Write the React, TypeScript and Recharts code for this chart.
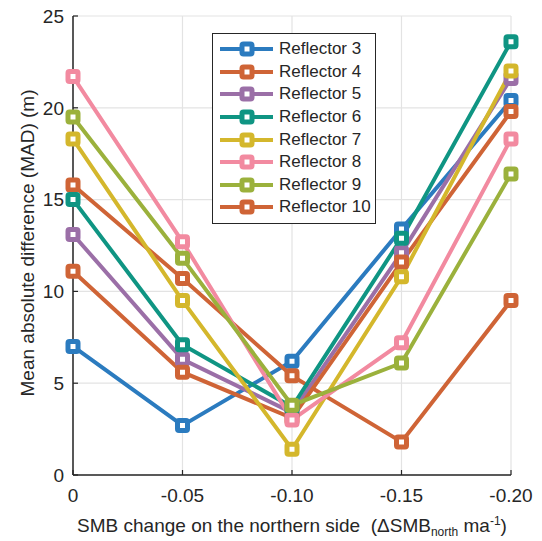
import { LineChart, Line, XAxis, YAxis, CartesianGrid, Legend } from "recharts";

const categories = ["0", "-0.05", "-0.10", "-0.15", "-0.20"];

const reflector3 = [7.0, 2.7, 6.2, 13.4, 20.4];
const reflector4 = [15.8, 10.7, 5.4, 1.8, 9.5];
const reflector5 = [13.1, 6.3, 3.4, 12.1, 21.6];
const reflector6 = [15.0, 7.1, 3.7, 12.9, 23.6];
const reflector7 = [18.3, 9.5, 1.4, 10.8, 22.0];
const reflector8 = [21.7, 12.7, 3.0, 7.2, 18.3];
const reflector9 = [19.5, 11.8, 3.8, 6.1, 16.4];
const reflector10 = [11.1, 5.6, 3.1, 11.6, 19.8];

const yTicks = [0, 5, 10, 15, 20, 25];

const series = [
  { name: "Reflector 3", values: reflector3, color: "#2b7bbf" },
  { name: "Reflector 4", values: reflector4, color: "#cf6436" },
  { name: "Reflector 5", values: reflector5, color: "#9b6fa7" },
  { name: "Reflector 6", values: reflector6, color: "#0f9583" },
  { name: "Reflector 7", values: reflector7, color: "#d4b72c" },
  { name: "Reflector 8", values: reflector8, color: "#f28aa0" },
  { name: "Reflector 9", values: reflector9, color: "#9bb13c" },
  { name: "Reflector 10", values: reflector10, color: "#cf6436" },
];

// draw order: reflector 10 sits under 6–9 in the original figure
const drawOrder = [0, 1, 2, 7, 3, 4, 5, 6];

const data = categories.map((c, i) => {
  const row: Record<string, string | number> = { x: c };
  series.forEach((s) => {
    row[s.name] = s.values[i];
  });
  return row;
});

const FONT = "'Liberation Sans', Arial, sans-serif";
const AXIS = "#262626";

function squareDot(color: string) {
  return (props: any) => {
    const { cx, cy, index } = props;
    if (cx == null || cy == null) return <g key={index} />;
    return (
      <rect
        key={index}
        x={cx - 5}
        y={cy - 5}
        width={10}
        height={10}
        rx={1.5}
        fill="#ffffff"
        stroke={color}
        strokeWidth={5}
      />
    );
  };
}

function LegendBox() {
  return (
    <div
      style={{
        width: 162,
        border: `1.5px solid ${AXIS}`,
        background: "#fff",
        padding: "4px 0",
        fontFamily: FONT,
        fontSize: 17,
        color: AXIS,
        boxSizing: "content-box",
      }}
    >
      {series.map((s) => (
        <div key={s.name} style={{ display: "flex", alignItems: "center", height: 22.6 }}>
          <svg width={66} height={20} style={{ flexShrink: 0 }}>
            <line x1={7} x2={60} y1={10} y2={10} stroke={s.color} strokeWidth={4} />
            <rect x={29} y={5} width={10} height={10} rx={1.5} fill="#fff" stroke={s.color} strokeWidth={5} />
          </svg>
          <span>{s.name}</span>
        </div>
      ))}
    </div>
  );
}

function XLabel() {
  return (
    <text
      x={292}
      y={532}
      textAnchor="middle"
      fontFamily={FONT}
      fontSize={19}
      fill={AXIS}
      style={{ whiteSpace: "pre" }}
    >
      {"SMB change on the northern side  (ΔSMB"}
      <tspan dy={4} fontSize={12}>north</tspan>
      <tspan dy={-4}>{" ma"}</tspan>
      <tspan dy={-7} fontSize={12}>-1</tspan>
      <tspan dy={7}>)</tspan>
    </text>
  );
}

function YLabel() {
  return (
    <text
      x={0}
      y={0}
      transform="translate(27,243) rotate(-90)"
      textAnchor="middle"
      dominantBaseline="central"
      fontFamily={FONT}
      fontSize={19}
      fill={AXIS}
    >
      Mean absolute difference (MAD) (m)
    </text>
  );
}

export default function App() {
  const tickStyle = { fill: AXIS, fontSize: 19, fontFamily: FONT };
  const axisLine = { stroke: AXIS, strokeWidth: 1.5 };
  const tickLine = { stroke: AXIS, strokeWidth: 1.2 };
  return (
    <div style={{ position: "absolute", left: 0, top: 0, background: "#fff" }}>
      <LineChart
        width={542}
        height={541}
        data={data}
        margin={{ top: 16, right: 31, bottom: 26, left: 0 }}
      >
        <CartesianGrid stroke="#e3e3e3" strokeWidth={1.2} />
        <XAxis
          dataKey="x"
          type="category"
          height={40}
          tick={tickStyle}
          tickLine={tickLine}
          tickSize={-5}
          tickMargin={19}
          axisLine={axisLine}
          label={<XLabel />}
        />
        <XAxis
          xAxisId="top"
          dataKey="x"
          orientation="top"
          height={0}
          tick={false}
          tickLine={tickLine}
          tickSize={-5}
          axisLine={axisLine}
        />
        <YAxis
          domain={[0, 25]}
          ticks={yTicks}
          width={73}
          tick={tickStyle}
          tickLine={tickLine}
          tickSize={-5}
          tickMargin={14}
          axisLine={axisLine}
          label={<YLabel />}
        />
        <YAxis
          yAxisId="right"
          orientation="right"
          domain={[0, 25]}
          ticks={yTicks}
          width={0}
          tick={false}
          tickLine={tickLine}
          tickSize={-5}
          axisLine={axisLine}
        />
        <Legend
          layout="horizontal"
          verticalAlign="middle"
          align="center"
          wrapperStyle={{ left: 212, top: 33, width: "auto", height: "auto" }}
          content={() => <LegendBox />}
        />
        {drawOrder.map((i) => {
          const s = series[i];
          return (
            <Line
              key={s.name}
              dataKey={s.name}
              stroke={s.color}
              strokeWidth={4}
              dot={squareDot(s.color)}
              activeDot={false}
              isAnimationActive={false}
            />
          );
        })}
      </LineChart>
    </div>
  );
}
